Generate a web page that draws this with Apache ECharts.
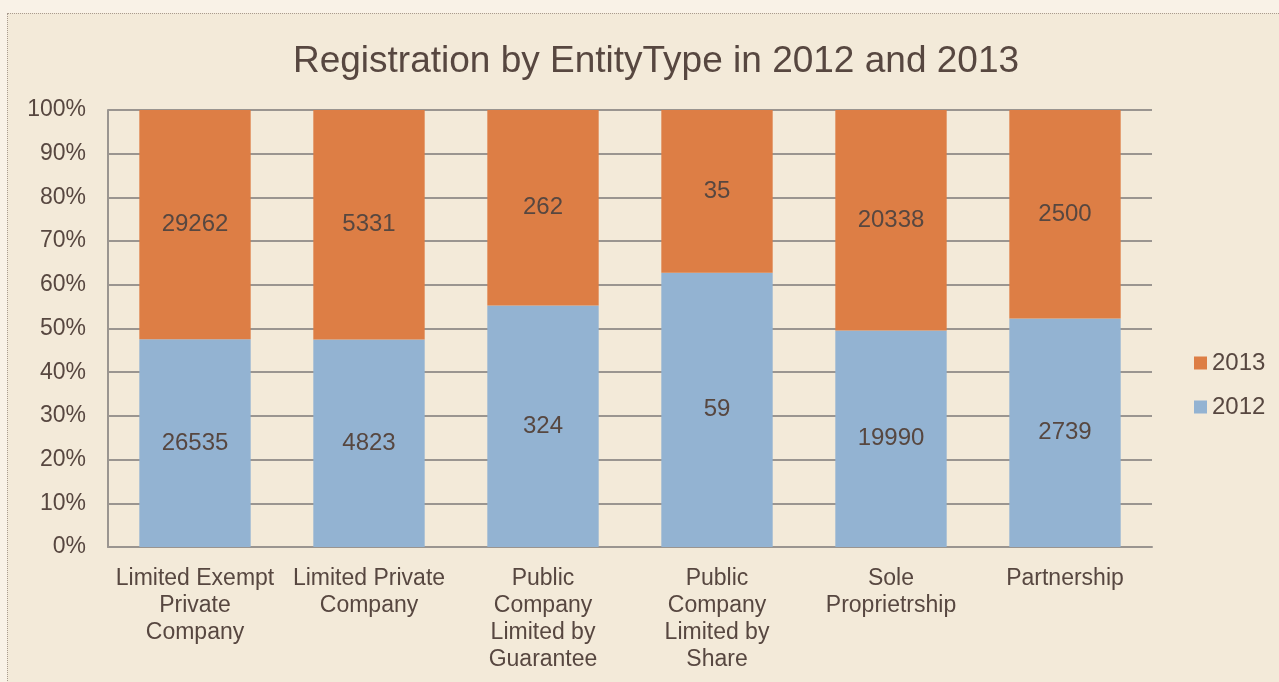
<!DOCTYPE html>
<html>
<head>
<meta charset="utf-8">
<script src="https://cdn.jsdelivr.net/npm/echarts@6/dist/echarts.min.js"></script>
<style>
	html, body { margin: 0; padding: 0; background: #f9f2e7; overflow: hidden; }
	#chart {
		position: absolute; left: 7px; top: 13px;
		width: 1290px; height: 690px;
		border: 1px dotted #a99b8f;
		background: #f3ead9;
	}
</style>
</head>
<body>
<div id="chart"></div>
<script>
var categories = ["Limited Exempt\nPrivate\nCompany", "Limited Private\nCompany", "Public\nCompany\nLimited by\nGuarantee", "Public\nCompany\nLimited by\nShare", "Sole\nProprietrship", "Partnership"];
var values2012 = [26535, 4823, 324, 59, 19990, 2739];
var values2013 = [29262, 5331, 262, 35, 20338, 2500];

// share of each year per category, in percent
function share(a, b) {
	var out = [];
	for (var i = 0; i < a.length; i++) {
		out.push({ value: a[i] / (a[i] + b[i]) * 100, raw: a[i] });
	}
	return out;
}

var textColor = '#574740';
var myChart = echarts.init(document.getElementById('chart'));
var option = {
	animation: false,
	title: {
		text: 'Registration by EntityType in 2012 and 2013',
		left: 643, top: 24, textAlign: 'center',
		textStyle: { fontFamily: 'Liberation Sans', fontSize: 37, fontWeight: 'normal', color: textColor }
	},
	legend: {
		orient: 'vertical',
		left: 1186, top: 337,
		padding: 0,
		itemWidth: 13, itemHeight: 13, itemGap: 20,
		icon: 'rect',
		data: ['2013', '2012'],
		textStyle: { fontFamily: 'Liberation Sans', fontSize: 24, color: textColor, padding: [0, 0, 0, 0] }
	},
	grid: { left: 100, top: 96, width: 1044, height: 437 },
	xAxis: {
		type: 'category',
		data: categories,
		axisLine: { lineStyle: { color: '#9a9590', width: 2 } },
		axisTick: { show: false },
		axisLabel: { interval: 0, margin: 18, fontFamily: 'Liberation Sans', fontSize: 23, lineHeight: 27, color: textColor }
	},
	yAxis: {
		type: 'value',
		min: 0, max: 100, interval: 10,
		axisLine: { show: true, lineStyle: { color: '#9a9590', width: 2 } },
		axisTick: { show: false },
		splitLine: { lineStyle: { color: '#9a9590', width: 2 } },
		axisLabel: { margin: 22, formatter: '{value}%', fontFamily: 'Liberation Sans', fontSize: 23, color: textColor }
	},
	series: [{
		name: '2012',
		type: 'bar',
		stack: 'all',
		barWidth: '64%',
		itemStyle: { color: '#93b3d2' },
		label: {
			show: true, position: 'inside',
			formatter: function(p) { return p.data.raw; },
			fontFamily: 'Liberation Sans', fontSize: 24, color: textColor
		},
		data: share(values2012, values2013)
	}, {
		name: '2013',
		type: 'bar',
		stack: 'all',
		barWidth: '64%',
		itemStyle: { color: '#dd7e45' },
		label: {
			show: true, position: 'inside',
			formatter: function(p) { return p.data.raw; },
			fontFamily: 'Liberation Sans', fontSize: 24, color: textColor
		},
		data: share(values2013, values2012)
	}]
};
myChart.setOption(option);
</script>
</body>
</html>
